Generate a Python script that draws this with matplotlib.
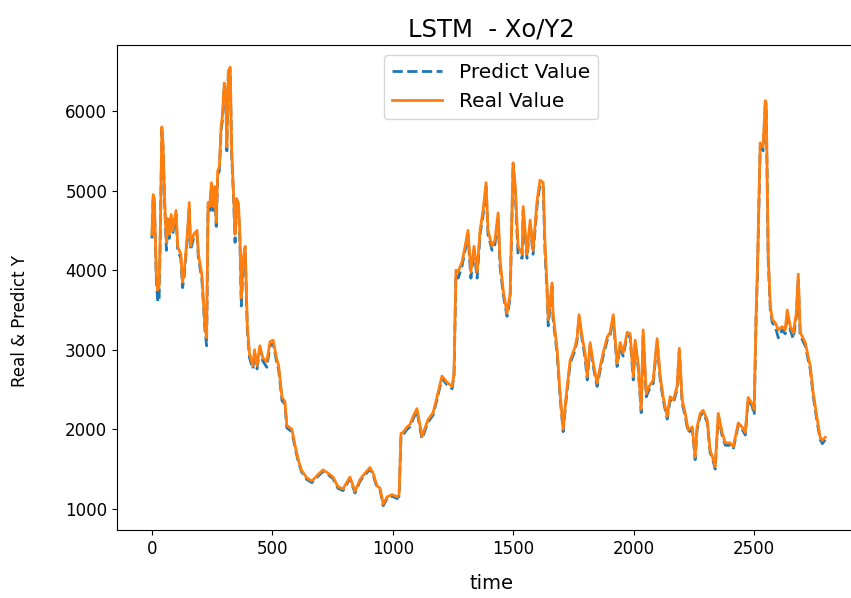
import matplotlib
matplotlib.use("Agg")
import matplotlib.pyplot as plt

## values
time = [0, 5, 10, 14, 18, 24, 30, 36, 41, 46, 52, 60, 66, 72, 80, 86, 100, 107, 120, 127,
        133, 147, 155, 160, 173, 187, 193, 207, 220, 227, 233, 240, 247, 253, 260, 267, 273, 280, 287, 293,
        300, 307, 311, 317, 325, 331, 339, 345, 351, 359, 365, 371, 379, 387, 396, 405, 419, 426, 436, 448,
        460, 477, 490, 503, 519, 526, 540, 552, 560, 581, 594, 607, 622, 643, 664, 689, 710, 731, 752, 772,
        793, 822, 843, 864, 885, 905, 918, 934, 947, 960, 976, 997, 1018, 1026, 1034, 1042, 1059, 1071, 1084, 1100,
        1121, 1146, 1167, 1183, 1204, 1225, 1246, 1254, 1262, 1271, 1287, 1300, 1312, 1324, 1337, 1350, 1362, 1375, 1387, 1395,
        1412, 1424, 1437, 1445, 1458, 1474, 1487, 1499, 1508, 1520, 1537, 1541, 1557, 1570, 1582, 1599, 1611, 1624, 1632, 1640,
        1645, 1661, 1665, 1682, 1694, 1707, 1719, 1736, 1757, 1765, 1773, 1786, 1798, 1807, 1819, 1832, 1848, 1861, 1873, 1890,
        1902, 1915, 1931, 1944, 1956, 1973, 1985, 1998, 2006, 2018, 2031, 2039, 2052, 2064, 2081, 2097, 2110, 2122, 2139, 2151,
        2164, 2180, 2189, 2201, 2214, 2226, 2243, 2255, 2263, 2276, 2288, 2305, 2317, 2330, 2338, 2351, 2367, 2380, 2400, 2413,
        2434, 2450, 2463, 2475, 2492, 2500, 2508, 2513, 2525, 2537, 2546, 2550, 2558, 2567, 2575, 2587, 2600, 2616, 2629, 2637,
        2650, 2662, 2675, 2683, 2691, 2712, 2733, 2745, 2762, 2774, 2783, 2795]

real = [4450, 4950, 4900, 4450, 3950, 3750, 3800, 4700, 5800, 5600, 4950, 4350, 4650, 4450, 4700, 4500, 4750, 4300, 4200, 3850,
        3950, 4450, 4850, 4300, 4450, 4500, 4200, 3950, 3300, 3150, 4850, 4800, 5100, 4800, 5050, 4600, 5250, 5300, 5800, 5950,
        6350, 6200, 5550, 6500, 6550, 5500, 4950, 4450, 4900, 4850, 4450, 3650, 4150, 4300, 3300, 2950, 2800, 3000, 2800, 3050,
        2900, 2850, 3100, 3120, 2870, 2800, 2400, 2350, 2050, 2000, 1800, 1620, 1480, 1390, 1350, 1430, 1490, 1450, 1400, 1280,
        1250, 1400, 1220, 1370, 1450, 1520, 1450, 1290, 1260, 1060, 1150, 1180, 1150, 1180, 1950, 1960, 2030, 2060, 2160, 2260,
        1910, 2120, 2210, 2400, 2670, 2590, 2540, 2700, 4000, 3980, 4100, 4300, 4500, 3980, 4300, 3980, 4500, 4760, 5100, 4500,
        4300, 4380, 4720, 4130, 3750, 3460, 3700, 5350, 5060, 4300, 4200, 4800, 4200, 4630, 4250, 4880, 5130, 5100, 4300, 3800,
        3380, 3840, 3460, 3000, 2460, 2000, 2400, 2870, 3040, 3160, 3440, 3160, 2960, 2660, 3090, 2830, 2580, 2790, 2960, 3160,
        3220, 3440, 2830, 3090, 2960, 3220, 3200, 2660, 3120, 2830, 2250, 3250, 2450, 2540, 2620, 3140, 2660, 2410, 2160, 2410,
        2370, 2540, 3020, 2370, 2200, 1990, 2030, 1650, 2030, 2200, 2240, 2120, 1740, 1620, 1530, 2200, 1960, 1830, 1830, 1780,
        2080, 2030, 1960, 2400, 2320, 2250, 3460, 3950, 5600, 5550, 6130, 6100, 4200, 3550, 3380, 3340, 3250, 3290, 3250, 3500,
        3290, 3210, 3460, 3950, 3220, 3090, 2790, 2460, 2120, 1900, 1860, 1900]

predict = [4400, 4900, 4880, 4400, 3900, 3600, 3650, 4650, 5750, 5550, 4900, 4250, 4600, 4400, 4650, 4450, 4700, 4250, 4150, 3780,
           3900, 4400, 4800, 4250, 4400, 4450, 4150, 3900, 3250, 3050, 4800, 4750, 5050, 4750, 5000, 4550, 5200, 5250, 5750, 5900,
           6300, 6150, 5500, 6450, 6500, 5450, 4900, 4350, 4850, 4800, 4400, 3550, 4100, 4250, 3250, 2900, 2760, 2950, 2760, 3000,
           2860, 2780, 3050, 3080, 2830, 2750, 2360, 2320, 2020, 1970, 1770, 1600, 1460, 1370, 1330, 1410, 1470, 1430, 1380, 1260,
           1230, 1380, 1200, 1350, 1430, 1500, 1430, 1270, 1240, 1040, 1130, 1160, 1130, 1160, 1920, 1930, 2000, 2030, 2130, 2230,
           1880, 2090, 2180, 2370, 2640, 2560, 2510, 2670, 3950, 3900, 4050, 4250, 4450, 3900, 4250, 3900, 4450, 4700, 5050, 4450,
           4250, 4330, 4650, 4050, 3700, 3420, 3650, 5300, 5000, 4180, 4150, 4750, 4150, 4580, 4200, 4820, 5080, 5050, 4200, 3750,
           3300, 3800, 3400, 2950, 2420, 1970, 2360, 2830, 3000, 3120, 3400, 3120, 2900, 2620, 3050, 2790, 2540, 2750, 2920, 3120,
           3180, 3400, 2790, 3050, 2920, 3180, 3160, 2620, 3080, 2790, 2210, 3200, 2410, 2500, 2580, 3100, 2620, 2370, 2130, 2370,
           2330, 2500, 2980, 2330, 2160, 1960, 2000, 1620, 2000, 2170, 2210, 2090, 1710, 1600, 1500, 2170, 1920, 1800, 1800, 1750,
           2050, 2000, 1930, 2370, 2290, 2180, 3420, 3900, 5550, 5500, 6080, 6050, 4150, 3500, 3340, 3300, 3150, 3250, 3200, 3460,
           3250, 3140, 3420, 3900, 3180, 3050, 2750, 2420, 2080, 1870, 1820, 1870]

fig = plt.figure(figsize=(8.51, 5.98), dpi=100)
ax = fig.add_axes([117/851, 1 - 530/598, (865 - 117)/851, (530 - 45)/598])

ax.plot(time, predict, ls='--', color='#1f77b4', lw=2, label='Predict Value')
ax.plot(time, real, color='#ff7f0e', lw=2, label='Real Value')

ax.set_xlim(-145, 2960)
ax.set_ylim(735, 6830)
ax.set_xticks([0, 500, 1000, 1500, 2000, 2500])
ax.set_yticks([1000, 2000, 3000, 4000, 5000, 6000])
ax.tick_params(labelsize=12)
ax.set_title("LSTM  - Xo/Y2", fontsize=17.5)
ax.set_xlabel("time", fontsize=14, labelpad=12)
ax.set_ylabel("Real & Predict Y", fontsize=12)
ax.yaxis.set_label_coords(-0.118, 0.43)
ax.legend(loc='upper center', fontsize=14.5, handlelength=2.5)

plt.savefig("out.png", dpi=100)
plt.close()
